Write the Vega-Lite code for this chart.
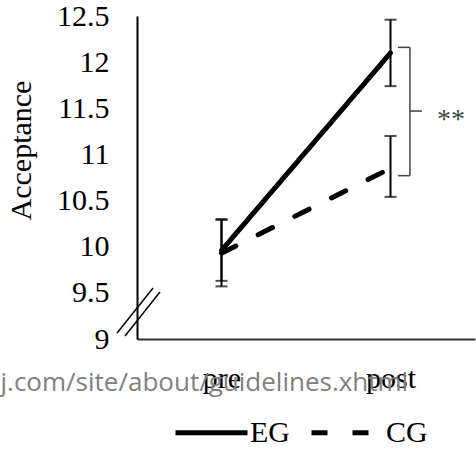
{
  "$schema": "https://vega.github.io/schema/vega-lite/v6.json",
  "width": 338,
  "height": 323,
  "autosize": "none",
  "padding": {"left": 137, "top": 16, "right": 1, "bottom": 111},
  "background": "white",
  "config": {
    "view": {"stroke": null},
    "font": "Liberation Serif",
    "style": {"guide-label": {"font": "Liberation Serif", "fontSize": 30, "fill": "black"}},
    "axisY": {
      "titleFont": "Liberation Serif", "titleFontSize": 30, "titleFontWeight": "normal", "titleColor": "black",
      "labelFont": "Liberation Serif", "labelFontSize": 30, "labelColor": "black", "labelPadding": 28,
      "labelFlush": false, "labelOverlap": false, "labelBound": false,
      "ticks": false, "grid": false, "domainColor": "black", "domainWidth": 2
    }
  },
  "datasets": {
    "stats": [
      {"time": "pre", "group": "EG", "mean": 9.96, "lo": 9.63, "hi": 10.30},
      {"time": "post", "group": "EG", "mean": 12.10, "lo": 11.74, "hi": 12.46},
      {"time": "pre", "group": "CG", "mean": 9.93, "lo": 9.57, "hi": 10.29},
      {"time": "post", "group": "CG", "mean": 10.85, "lo": 10.54, "hi": 11.20}
    ],
    "segments": [
      {"part": "bracket", "x": 1.044, "x2": 1.115, "y": 12.16, "y2": 12.16},
      {"part": "bracket", "x": 1.115, "x2": 1.115, "y": 12.16, "y2": 10.77},
      {"part": "bracket", "x": 1.044, "x2": 1.115, "y": 10.77, "y2": 10.77},
      {"part": "bracket", "x": 1.115, "x2": 1.186, "y": 11.47, "y2": 11.47},
      {"part": "break", "x": -0.618, "x2": -0.405, "y": 9.065, "y2": 9.553},
      {"part": "break", "x": -0.571, "x2": -0.364, "y": 9.033, "y2": 9.509}
    ],
    "labels": [{"text": "**", "x": 1.275, "y": 11.37}]
  },
  "layer": [
    {
      "data": {"name": "stats"},
      "mark": {"type": "rule", "color": "black", "strokeWidth": 2},
      "encoding": {
        "x": {"field": "time", "type": "nominal", "sort": ["pre", "post"], "scale": {"type": "point", "padding": 0.5}, "axis": null},
        "y": {
          "field": "lo", "type": "quantitative", "title": "Acceptance",
          "scale": {"domain": [9, 12.5], "nice": false, "zero": false},
          "axis": {
            "title": "Acceptance", "format": "~g",
            "titleX": -116, "titleY": 134, "titleAngle": -90, "titleAlign": "center", "titleBaseline": "middle",
            "labelFont": "Liberation Serif", "labelFontSize": 30, "labelColor": "black",
            "values": [9, 9.5, 10, 10.5, 11, 11.5, 12, 12.5]
          }
        },
        "y2": {"field": "hi"}
      }
    },
    {
      "data": {"name": "stats"},
      "mark": {"type": "tick", "color": "black", "thickness": 2, "size": 12},
      "encoding": {
        "x": {"field": "time", "type": "nominal", "sort": ["pre", "post"], "scale": {"type": "point", "padding": 0.5}, "axis": null},
        "y": {"field": "lo", "type": "quantitative", "title": "Acceptance", "axis": {"labelFont": "Liberation Serif", "labelFontSize": 30}}
      }
    },
    {
      "data": {"name": "stats"},
      "mark": {"type": "tick", "color": "black", "thickness": 2, "size": 12},
      "encoding": {
        "x": {"field": "time", "type": "nominal", "sort": ["pre", "post"], "scale": {"type": "point", "padding": 0.5}, "axis": null},
        "y": {"field": "hi", "type": "quantitative", "title": "Acceptance", "axis": {"labelFont": "Liberation Serif", "labelFontSize": 30}}
      }
    },
    {
      "data": {"name": "stats"},
      "mark": {"type": "line", "color": "black", "strokeWidth": 5, "strokeCap": "round"},
      "encoding": {
        "x": {
          "field": "time", "type": "nominal", "sort": ["pre", "post"],
          "scale": {"type": "point", "padding": 0.5},
          "axis": {
            "title": "j.com/site/about/guidelines.xhtml",
            "titleFont": "Open Sans", "titleFontSize": 26, "titleFontWeight": "normal", "titleColor": "#808080",
            "titleX": -137, "titleY": 51, "titleAlign": "left", "titleAnchor": "start", "titleBaseline": "alphabetic",
            "labelAngle": 0, "labelFont": "Liberation Serif", "labelFontSize": 30, "labelColor": "black", "labelPadding": 24,
            "ticks": false, "grid": false, "domainColor": "#333333", "domainWidth": 2
          }
        },
        "y": {"field": "mean", "type": "quantitative", "title": "Acceptance", "axis": {"labelFont": "Liberation Serif", "labelFontSize": 30}},
        "strokeDash": {
          "field": "group", "type": "nominal", "sort": ["EG", "CG"],
          "scale": {"domain": ["EG", "CG"], "range": [[1, 0], [16, 25]]},
          "legend": {
            "title": null, "orient": "none", "legendX": 36, "legendY": 378, "direction": "horizontal",
            "symbolType": "stroke", "symbolSize": 5184, "symbolStrokeWidth": 5, "symbolStrokeColor": "black",
            "labelFont": "Liberation Serif", "labelFontSize": 30, "labelColor": "black", "labelOffset": 0, "columnPadding": 11
          }
        }
      }
    },
    {
      "data": {"name": "segments"},
      "transform": [{"filter": "datum.part === 'bracket'"}],
      "mark": {"type": "rule", "color": "#444444", "strokeWidth": 1.5},
      "encoding": {
        "x": {"field": "x", "type": "quantitative", "scale": {"domain": [-0.5, 1.5], "nice": false, "zero": false}, "axis": null},
        "x2": {"field": "x2"},
        "y": {"field": "y", "type": "quantitative", "title": "Acceptance", "axis": {"labelFont": "Liberation Serif", "labelFontSize": 30}},
        "y2": {"field": "y2"}
      }
    },
    {
      "data": {"name": "segments"},
      "transform": [{"filter": "datum.part === 'break'"}],
      "mark": {"type": "rule", "color": "black", "strokeWidth": 1.5},
      "encoding": {
        "x": {"field": "x", "type": "quantitative", "scale": {"domain": [-0.5, 1.5], "nice": false, "zero": false}, "axis": null},
        "x2": {"field": "x2"},
        "y": {"field": "y", "type": "quantitative", "title": "Acceptance", "axis": {"labelFont": "Liberation Serif", "labelFontSize": 30}},
        "y2": {"field": "y2"}
      }
    },
    {
      "data": {"name": "labels"},
      "mark": {"type": "text", "font": "Liberation Serif", "fontSize": 28, "align": "left", "baseline": "middle", "color": "#444444"},
      "encoding": {
        "x": {"field": "x", "type": "quantitative", "scale": {"domain": [-0.5, 1.5], "nice": false, "zero": false}, "axis": null},
        "y": {"field": "y", "type": "quantitative", "title": "Acceptance", "axis": {"labelFont": "Liberation Serif", "labelFontSize": 30}},
        "text": {"field": "text"}
      }
    }
  ],
  "resolve": {"scale": {"x": "independent"}}
}
